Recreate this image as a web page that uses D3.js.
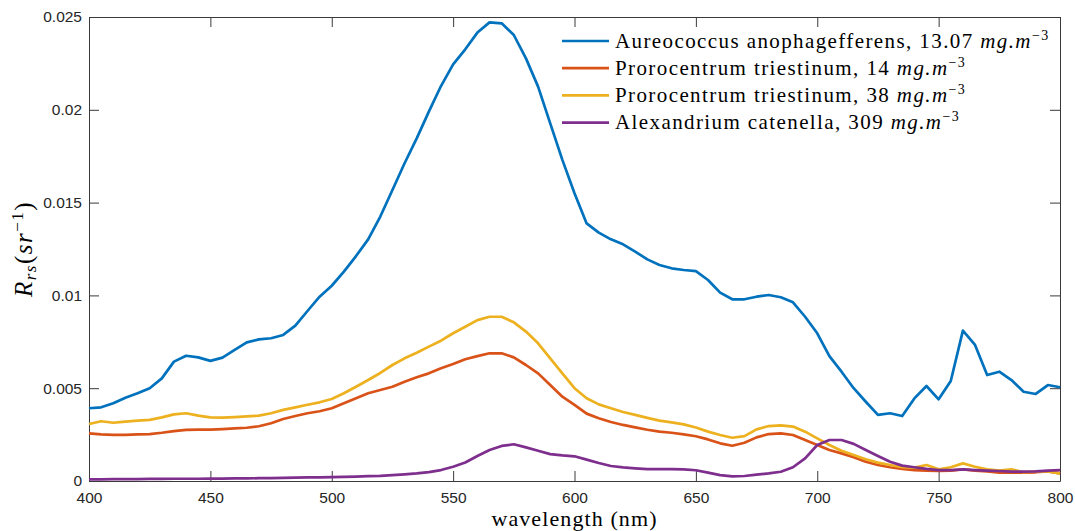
<!DOCTYPE html>
<html>
<head>
<meta charset="utf-8">
<script src="https://cdn.jsdelivr.net/npm/d3@7/dist/d3.min.js"></script>
<style>
    body { margin: 0; background: #fff; }
    svg { display: block; }
    .tick text { font-family: "Liberation Sans", Arial, sans-serif; font-size: 15.5px; fill: #262626; }
    .axis path, .axis line { stroke: #3a3a3a; }
    .serif { font-family: "Liberation Serif", "DejaVu Serif", serif; fill: #000; }
</style>
</head>
<body>
<svg id="chart" width="1075" height="531"></svg>
<script>
var wavelength = [400, 405, 410, 415, 420, 425, 430, 435, 440, 445, 450, 455, 460, 465, 470, 475, 480, 485, 490, 495,
    500, 505, 510, 515, 520, 525, 530, 535, 540, 545, 550, 555, 560, 565, 570, 575, 580, 585, 590, 595,
    600, 605, 610, 615, 620, 625, 630, 635, 640, 645, 650, 655, 660, 665, 670, 675, 680, 685, 690, 695,
    700, 705, 710, 715, 720, 725, 730, 735, 740, 745, 750, 755, 760, 765, 770, 775, 780, 785, 790, 795, 800];

var aureococcus = [0.00392, 0.00397, 0.00419, 0.00449, 0.00473, 0.00500, 0.00553, 0.00643, 0.00675, 0.00666,
    0.00647, 0.00665, 0.00706, 0.00747, 0.00763, 0.00769, 0.00787, 0.00837, 0.00916, 0.00993,
    0.01052, 0.01128, 0.01212, 0.01302, 0.01425, 0.01568, 0.01712, 0.01846, 0.01990, 0.02128,
    0.02245, 0.02326, 0.02416, 0.02471, 0.02466, 0.02403, 0.02277, 0.02125, 0.01927, 0.01730,
    0.01550, 0.01388, 0.01338, 0.01302, 0.01275, 0.01236, 0.01194, 0.01164, 0.01146, 0.01137,
    0.01131, 0.01083, 0.01015, 0.00979, 0.00979, 0.00993, 0.01002, 0.00990, 0.00963, 0.00885,
    0.00796, 0.00673, 0.00589, 0.00500, 0.00427, 0.00356, 0.00365, 0.00350, 0.00445, 0.00512,
    0.00440, 0.00539, 0.00810, 0.00733, 0.00571, 0.00589, 0.00544, 0.00481, 0.00469, 0.00517, 0.00505];

var prorocentrum14 = [0.00257, 0.00251, 0.00248, 0.00248, 0.00251, 0.00253, 0.00260, 0.00269, 0.00275, 0.00277,
    0.00277, 0.00280, 0.00284, 0.00287, 0.00295, 0.00311, 0.00334, 0.00350, 0.00365, 0.00376,
    0.00392, 0.00419, 0.00446, 0.00473, 0.00490, 0.00508, 0.00535, 0.00559, 0.00580, 0.00607,
    0.00630, 0.00656, 0.00673, 0.00688, 0.00688, 0.00666, 0.00625, 0.00580, 0.00517, 0.00454,
    0.00410, 0.00363, 0.00338, 0.00318, 0.00302, 0.00289, 0.00276, 0.00266, 0.00260, 0.00251,
    0.00241, 0.00224, 0.00203, 0.00190, 0.00206, 0.00235, 0.00253, 0.00257, 0.00248, 0.00221,
    0.00194, 0.00167, 0.00149, 0.00128, 0.00104, 0.00086, 0.00074, 0.00065, 0.00059, 0.00056,
    0.00054, 0.00056, 0.00063, 0.00056, 0.00052, 0.00045, 0.00045, 0.00045, 0.00047, 0.00052, 0.00041];

var prorocentrum38 = [0.00307, 0.00322, 0.00314, 0.00320, 0.00325, 0.00329, 0.00343, 0.00359, 0.00365, 0.00352,
    0.00343, 0.00341, 0.00344, 0.00348, 0.00352, 0.00365, 0.00383, 0.00397, 0.00411, 0.00424,
    0.00442, 0.00473, 0.00508, 0.00544, 0.00582, 0.00625, 0.00661, 0.00691, 0.00724, 0.00756,
    0.00796, 0.00831, 0.00867, 0.00885, 0.00885, 0.00855, 0.00805, 0.00742, 0.00661, 0.00580,
    0.00500, 0.00446, 0.00413, 0.00392, 0.00372, 0.00356, 0.00340, 0.00325, 0.00316, 0.00305,
    0.00288, 0.00266, 0.00248, 0.00233, 0.00242, 0.00278, 0.00296, 0.00300, 0.00293, 0.00266,
    0.00230, 0.00194, 0.00163, 0.00140, 0.00117, 0.00099, 0.00086, 0.00074, 0.00072, 0.00086,
    0.00063, 0.00074, 0.00095, 0.00077, 0.00063, 0.00056, 0.00063, 0.00047, 0.00052, 0.00052, 0.00041];

var alexandrium = [0.00009, 0.00009, 0.00010, 0.00010, 0.00010, 0.00011, 0.00011, 0.00012, 0.00012, 0.00012,
    0.00013, 0.00013, 0.00014, 0.00014, 0.00015, 0.00016, 0.00017, 0.00018, 0.00019, 0.00020,
    0.00021, 0.00022, 0.00024, 0.00026, 0.00028, 0.00032, 0.00036, 0.00041, 0.00048, 0.00059,
    0.00077, 0.00100, 0.00135, 0.00167, 0.00189, 0.00198, 0.00181, 0.00163, 0.00145, 0.00138,
    0.00133, 0.00115, 0.00097, 0.00081, 0.00073, 0.00068, 0.00064, 0.00064, 0.00064, 0.00063,
    0.00058, 0.00045, 0.00032, 0.00025, 0.00027, 0.00034, 0.00041, 0.00050, 0.00074, 0.00122,
    0.00194, 0.00221, 0.00221, 0.00200, 0.00167, 0.00135, 0.00104, 0.00083, 0.00074, 0.00065,
    0.00059, 0.00059, 0.00063, 0.00059, 0.00056, 0.00054, 0.00050, 0.00050, 0.00052, 0.00056, 0.00059];

var seriesNames = ["Aureococcus anophagefferens, 13.07 ", "Prorocentrum triestinum, 14 ",
    "Prorocentrum triestinum, 38 ", "Alexandrium catenella, 309 "];
var seriesColors = ["#0072BD", "#D95319", "#EDB120", "#7E2F8E"];
var xTicks = [400, 450, 500, 550, 600, 650, 700, 750, 800];
var yTicks = [0, 0.005, 0.01, 0.015, 0.02, 0.025];

var series = [aureococcus, prorocentrum14, prorocentrum38, alexandrium];

var margin = { left: 89, right: 15, top: 17, bottom: 50 };
var width = 1075, height = 531;

var svg = d3.select("#chart");

var x = d3.scaleLinear().domain([400, 800]).range([margin.left, width - margin.right]);
var y = d3.scaleLinear().domain([0, 0.025]).range([height - margin.bottom, margin.top]);

function fmt(d) { return String(+d.toFixed(3)); }

// box with inward ticks on every side, like matlab
svg.append("g").attr("class", "axis")
    .attr("transform", "translate(0," + y(0) + ")")
    .call(d3.axisBottom(x).tickValues(xTicks).tickSizeInner(-10).tickSizeOuter(0).tickPadding(10.5));
svg.append("g").attr("class", "axis")
    .attr("transform", "translate(0," + y(0.025) + ")")
    .call(d3.axisTop(x).tickValues(xTicks).tickSizeInner(-10).tickSizeOuter(0).tickFormat(""));
svg.append("g").attr("class", "axis")
    .attr("transform", "translate(" + x(400) + ",0)")
    .call(d3.axisLeft(y).tickValues(yTicks).tickSizeInner(-10).tickSizeOuter(0).tickPadding(7).tickFormat(fmt));
svg.append("g").attr("class", "axis")
    .attr("transform", "translate(" + x(800) + ",0)")
    .call(d3.axisRight(y).tickValues(yTicks).tickSizeInner(-10).tickSizeOuter(0).tickFormat(""));

var line = d3.line()
    .x(function(d, i) { return x(wavelength[i]); })
    .y(function(d) { return y(d); });

svg.append("g").selectAll("path.curve")
    .data(series)
    .enter().append("path")
    .attr("class", "curve")
    .attr("d", line)
    .attr("fill", "none")
    .attr("stroke", function(d, i) { return seriesColors[i]; })
    .attr("stroke-width", 2.7)
    .attr("stroke-linejoin", "round");

// legend
var legend = svg.append("g").selectAll("g")
    .data(seriesNames)
    .enter().append("g")
    .attr("transform", function(d, i) { return "translate(562," + (41 + i * 27.2) + ")"; });

legend.append("line")
    .attr("x1", 0).attr("x2", 47)
    .attr("stroke", function(d, i) { return seriesColors[i]; })
    .attr("stroke-width", 2.7);

var lt = legend.append("text")
    .attr("class", "serif")
    .attr("x", 53).attr("y", 6.5)
    .attr("font-size", 21)
    .attr("letter-spacing", 1.4);
lt.append("tspan").text(function(d) { return d; });
lt.append("tspan").attr("font-style", "italic").text("mg.m");
lt.append("tspan").attr("font-size", 14).attr("dy", -8).text("\u22123");

// axis labels
svg.append("text")
    .attr("class", "serif")
    .attr("x", (x(400) + x(800)) / 2)
    .attr("y", 526)
    .attr("text-anchor", "middle")
    .attr("font-size", 22)
    .attr("letter-spacing", 1.1)
    .text("wavelength (nm)");

var yl = svg.append("text")
    .attr("class", "serif")
    .attr("transform", "translate(32," + (y(0) + y(0.025)) / 2 + ") rotate(-90)")
    .attr("text-anchor", "middle")
    .attr("font-size", 25)
    .attr("letter-spacing", 1.5);
yl.append("tspan").attr("font-style", "italic").text("R");
yl.append("tspan").attr("font-style", "italic").attr("font-size", 17).attr("dy", 4).text("rs");
yl.append("tspan").attr("dy", -4).text("(");
yl.append("tspan").attr("font-style", "italic").text("sr");
yl.append("tspan").attr("font-size", 17).attr("dy", -9).text("\u22121");
yl.append("tspan").attr("dy", 9).text(")");
</script>
</body>
</html>
